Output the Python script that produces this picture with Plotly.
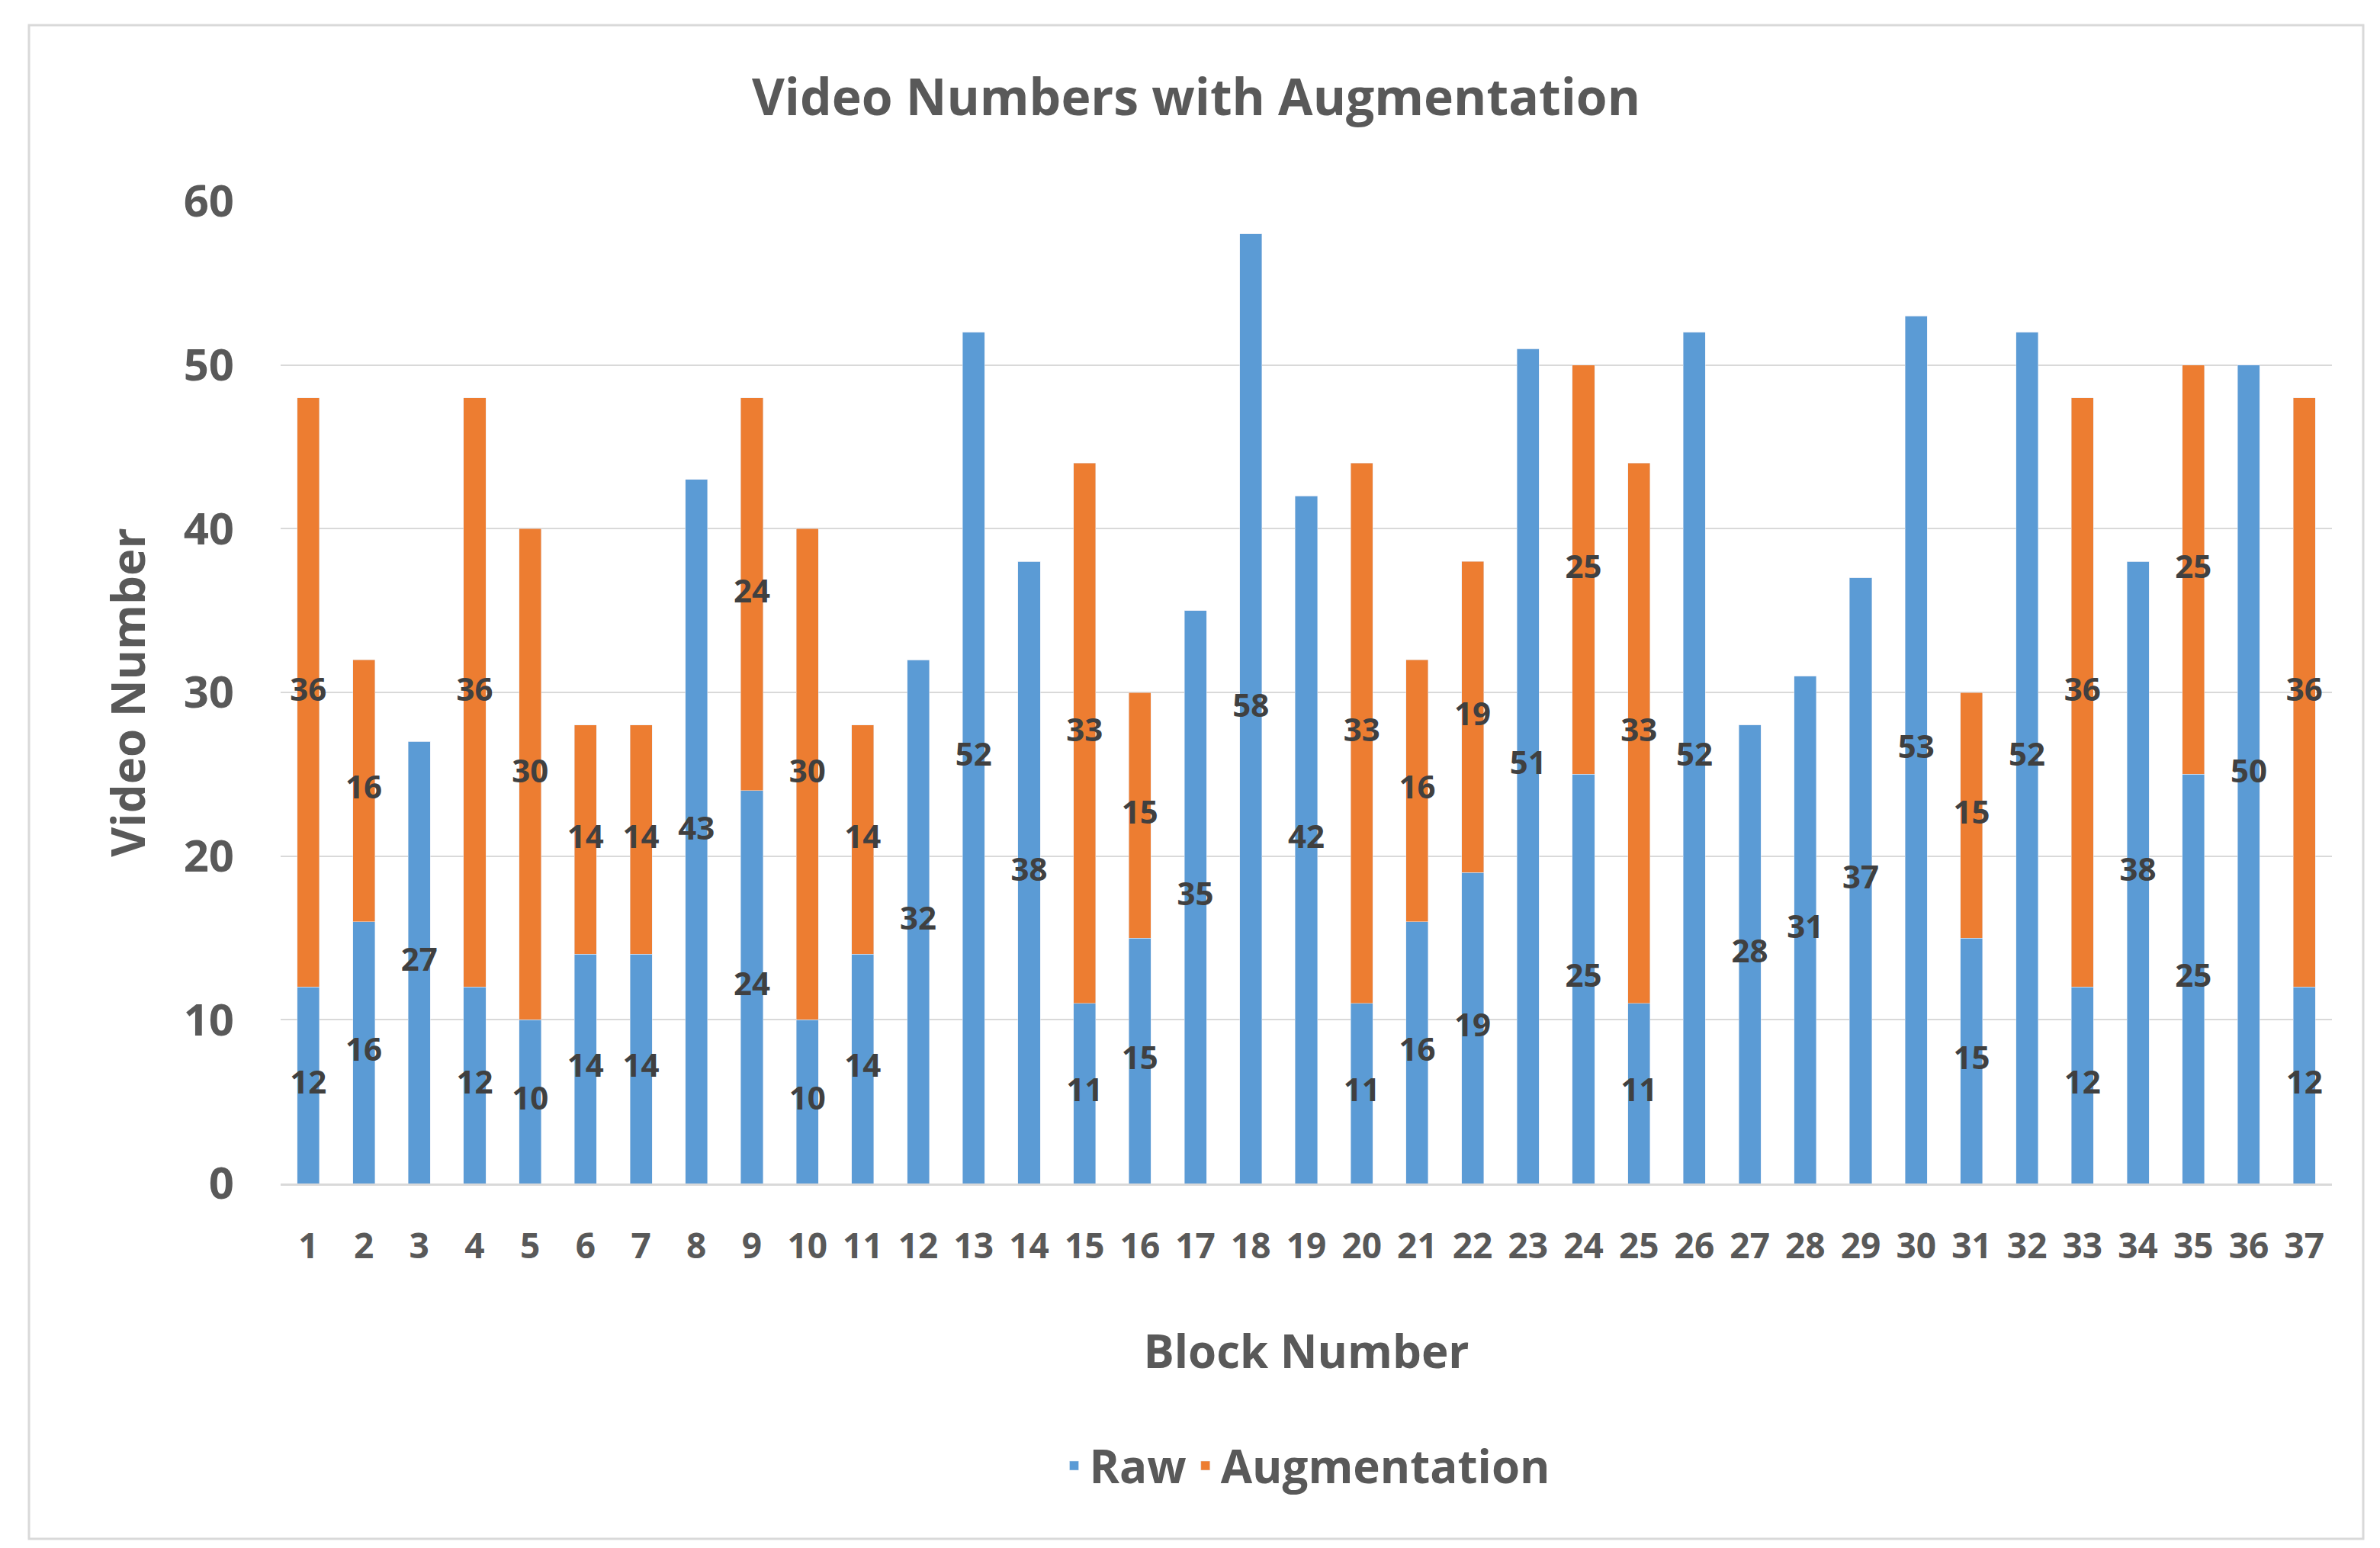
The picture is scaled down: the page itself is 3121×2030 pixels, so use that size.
import plotly.graph_objects as go

blocks = [str(i) for i in range(1, 38)]
raw = [12,16,27,12,10,14,14,43,24,10,14,32,52,38,11,15,35,58,42,11,16,19,51,25,11,52,28,31,37,53,15,52,12,38,25,50,12]
aug = [36,16,0,36,30,14,14,0,24,30,14,0,0,0,33,15,0,0,0,33,16,19,0,25,33,0,0,0,0,0,15,0,36,0,25,0,36]

BLUE = "#5B9BD5"; ORANGE = "#ED7D31"; TXT = "#595959"
F = "Open Sans"

fig = go.Figure()
fig.add_bar(x=blocks, y=raw, name="Raw", marker_color=BLUE)
fig.add_bar(x=blocks, y=aug, name="Augmentation", marker_color=ORANGE)

lf = dict(family=F, size=42, color="#404040", weight="bold")
fig.add_scatter(x=blocks, y=[r/2 for r in raw], mode="text", text=[str(r) for r in raw],
                textfont=lf, showlegend=False, hoverinfo="skip")
ax = [b for b, a in zip(blocks, aug) if a > 0]
ay = [r + a/2 for r, a in zip(raw, aug) if a > 0]
at = [str(a) for a in aug if a > 0]
fig.add_scatter(x=ax, y=ay, mode="text", text=at, textfont=lf, showlegend=False, hoverinfo="skip")

fig.update_layout(
    width=3121, height=2030, barmode="stack", bargap=0.6,
    paper_bgcolor="white", plot_bgcolor="white",
    margin=dict(l=360, r=71, t=256, b=486),
    font=dict(family=F, color=TXT),
    title=dict(text="<b>Video Numbers with Augmentation</b>", x=0.5, xanchor="center",
               y=1-120/2030, yanchor="middle", font=dict(size=66, color=TXT)),
    xaxis=dict(tickfont=dict(size=46, color=TXT, weight="bold"), showline=True, linecolor="#D9D9D9",
               linewidth=3, ticklabelstandoff=40, range=[-0.5, 36.5],
               title=dict(text="<b>Block Number</b>", font=dict(size=60, color=TXT), standoff=90)),
    yaxis=dict(range=[0, 60], dtick=10, gridcolor="#D9D9D9", gridwidth=2, zeroline=False,
               tickfont=dict(size=58, color=TXT, weight="bold"), ticklabelstandoff=60,
               title=dict(text="<b>Video Number</b>", font=dict(size=60, color=TXT), standoff=30)),
    legend=dict(orientation="h", x=0.5, xanchor="center", y=(2030-486-1914)/1288, yanchor="middle",
                font=dict(size=60, color=TXT, weight="bold"), traceorder="normal"),
    shapes=[dict(type="rect", xref="paper", yref="paper", x0=(30-360)/2690, x1=(3091-360)/2690,
                 y0=-0.3618, y1=1.1793, line=dict(color="#D9D9D9", width=3))],
)
fig.write_html("out.html")
